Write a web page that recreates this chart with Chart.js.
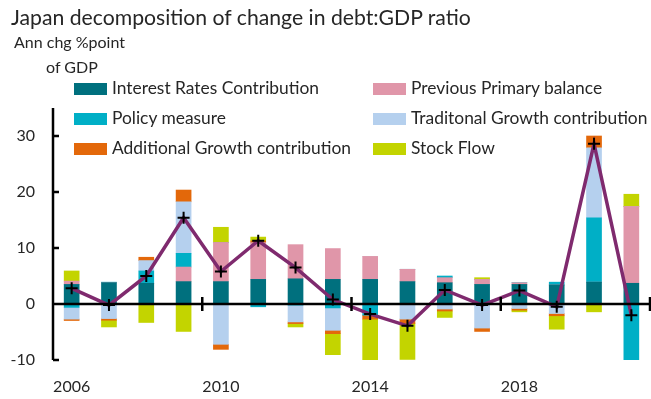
<!DOCTYPE html>
<html>
<head>
<meta charset="utf-8">
<script src="https://cdn.jsdelivr.net/npm/chart.js@4.4.0/dist/chart.umd.min.js"></script>
<style>
  body { margin: 0; background: #fff; overflow: hidden; }
  #wrap { position: relative; width: 651px; height: 399px; font-family: Lato, "Open Sans", sans-serif; color: #262626; }
  #chart { position: absolute; left: 0; top: 0; }
  .txt { position: absolute; white-space: nowrap; }
  #title { left: 11px; top: 4px; font-size: 21.2px; }
  #sub1 { left: 14px; top: 32px; font-size: 16px; }
  #sub2 { left: 46px; top: 57px; font-size: 16px; }
  .leg { position: absolute; font-size: 17.4px; white-space: nowrap; }
  .leg span { display: inline-block; width: 33px; height: 12px; margin-right: 5px; vertical-align: -1px; }
</style>
</head>
<body>
<div id="wrap">
  <canvas id="chart" width="651" height="399"></canvas>
  <div class="txt" id="title">Japan decomposition of change in debt:GDP ratio</div>
  <div class="txt" id="sub1">Ann chg %point</div>
  <div class="txt" id="sub2">of GDP</div>
  <div id="legend"></div>
</div>
<script>
// Data (% points of GDP)

var years = ["2006", "2007", "2008", "2009", "2010", "2011", "2012", "2013",
             "2014", "2015", "2016", "2017", "2018", "2019", "2020", "2021"];

var interestRates  = [3.5, 3.8, 3.7, 4.0, 4.0, 4.4, 4.5, 4.4, 4.4, 4.0, 3.8, 3.5, 3.5, 3.4, 3.9, 3.7];
var primaryBalance = [0.6, 0, 0, 2.6, 7.0, 6.5, 6.1, 5.5, 4.1, 2.2, 0.9, 0.9, 0.3, 0, 0, 13.7];
var policyMeasure  = [-0.6, 0.1, 2.2, 2.45, 0, -0.5, -0.2, -0.7, -2.0, 0, 0.3, 0, 0, 0.5, 11.5, -10.1];
var tradGrowth     = [-2.1, -2.6, 1.85, 9.2, -7.2, 0, -3.0, -4.0, 0, -2.7, -0.9, -4.3, -0.8, -1.7, 12.5, 0];
var addGrowth      = [-0.25, -0.3, 0.6, 2.1, -0.9, 0.35, -0.3, -0.6, -0.7, -0.8, -0.35, -0.6, -0.3, -0.4, 2.1, 0];
var stockFlow      = [1.8, -1.2, -3.3, -4.9, 2.7, 0.7, -0.6, -3.75, -7.5, -6.4, -1.15, 0.3, -0.3, -2.4, -1.4, 2.2];
var totalChange    = [2.8, -0.2, 5.0, 15.4, 5.8, 11.3, 6.5, 0.8, -1.8, -3.9, 2.5, -0.2, 2.4, -0.5, 28.6, -2.0];

var yTicks = [-10, 0, 10, 20, 30];

var series = [
  { label: "Interest Rates Contribution",   data: interestRates,  color: "#00707e" },
  { label: "Previous Primary balance",      data: primaryBalance, color: "#e096a9" },
  { label: "Policy measure",                data: policyMeasure,  color: "#00afc6" },
  { label: "Traditonal Growth contribution",data: tradGrowth,     color: "#b5d0ee" },
  { label: "Additional Growth contribution",data: addGrowth,      color: "#e3680a" },
  { label: "Stock Flow",                    data: stockFlow,      color: "#c3d400" }
];

// HTML legend, two columns

var legPos = [[74, 77], [373, 77], [74, 107], [373, 107], [74, 137], [373, 137]];
var legendDiv = document.getElementById('legend');
series.forEach(function (s, i) {
  var d = document.createElement('div');
  d.className = 'leg';
  d.style.left = legPos[i][0] + 'px';
  d.style.top = legPos[i][1] + 'px';
  d.innerHTML = '<span style="background:' + s.color + '"></span>' + s.label;
  legendDiv.appendChild(d);
});

// axis lines crossing at zero, Excel style

var axisPlugin = {
  id: 'axisLines',
  afterDatasetsDraw: function (chart) {
    var ctx = chart.ctx, x = chart.scales.x, y = chart.scales.y;
    var area = chart.chartArea;
    var y0 = y.getPixelForValue(0);
    ctx.save();
    ctx.strokeStyle = '#000';
    ctx.lineWidth = 2.5;
    ctx.beginPath();
    ctx.moveTo(area.left, area.top);
    ctx.lineTo(area.left, area.bottom);
    yTicks.forEach(function (v) {
      var py = y.getPixelForValue(v);
      ctx.moveTo(area.left, py);
      ctx.lineTo(area.left + 6, py);
    });
    ctx.moveTo(area.left, y0);
    ctx.lineTo(area.right, y0);
    var step = (area.right - area.left) / years.length;
    for (var k = 4; k <= years.length; k += 4) {
      var px = area.left + k * step;
      ctx.moveTo(px, y0 - 7);
      ctx.lineTo(px, y0 + 7);
    }
    ctx.stroke();
    ctx.restore();
  }
};

var datasets = series.map(function (s) {
  return {
    type: 'bar',
    label: s.label,
    data: s.data,
    backgroundColor: s.color,
    borderWidth: 0,
    barThickness: 15,
    stack: 'parts',
    order: 2
  };
});

datasets.push({
  type: 'line',
  label: 'Total',
  data: totalChange,
  borderColor: '#7f2a6e',
  borderWidth: 3.5,
  pointStyle: 'cross',
  pointRadius: 6,
  pointBorderColor: '#000',
  pointBorderWidth: 2,
  pointBackgroundColor: '#000',
  tension: 0,
  order: 1
});

new Chart(document.getElementById('chart'), {
  data: { labels: years, datasets: datasets },
  plugins: [axisPlugin],
  options: {
    responsive: false,
    animation: false,
    layout: { autoPadding: false, padding: { top: 108, right: 1, left: 0, bottom: 2 } },
    plugins: {
      legend: { display: false },
      tooltip: { enabled: false }
    },
    scales: {
      x: {
        stacked: true,
        grid: { display: false, drawTicks: false },
        border: { display: false },
        afterFit: function (scale) {
          scale.height = 37;
          scale.paddingLeft = 0;
          scale.paddingRight = 0;
        },
        ticks: {
          autoSkip: false,
          maxRotation: 0,
          padding: 17,
          color: '#262626',
          font: { family: 'Lato', size: 16 },
          callback: function (v, i) { return i % 4 === 0 ? years[i] : ''; }
        }
      },
      y: {
        stacked: true,
        min: -10,
        max: 35,
        afterFit: function (scale) {
          scale.width = 53;
          scale.paddingTop = 0;
          scale.paddingBottom = 0;
        },
        afterBuildTicks: function (scale) {
          scale.ticks = yTicks.map(function (v) { return { value: v }; });
        },
        grid: { display: false, drawTicks: false },
        border: { display: false },
        ticks: {
          padding: 18,
          color: '#262626',
          font: { family: 'Lato', size: 16 }
        }
      }
    }
  }
});
</script>
</body>
</html>
